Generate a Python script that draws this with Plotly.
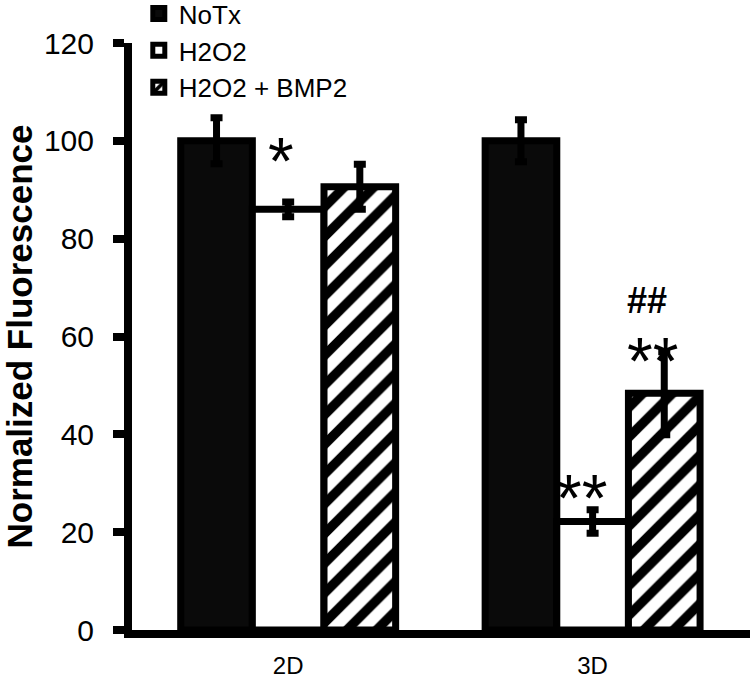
import plotly.graph_objects as go

categories = ["2D", "3D"]
series_names = ["NoTx", "H2O2", "H2O2 + BMP2"]
notx = [100, 100]
notx_err = [4.7, 4.3]
h2o2 = [86, 22.2]
h2o2_err = [1.5, 2.4]
bmp2 = [90.6, 48.4]
bmp2_err = [4.6, 8.5]

ann_x = [-0.025, 0.965, 1.198, 1.18]
ann_y = [97.5, 28.6, 56.7, 67.3]
ann_text = ["*", "**", "**", "##"]

FONT = "Arial, Liberation Sans, sans-serif"
LW = 7

err_style = dict(type="data", visible=True, color="black", thickness=7, width=6)

fig = go.Figure()
fig.add_trace(go.Bar(
    x=categories, y=notx, name=series_names[0],
    marker=dict(color="#0a0a0a", line=dict(color="black", width=LW)),
    error_y=dict(array=notx_err, **err_style),
))
fig.add_trace(go.Bar(
    x=categories, y=h2o2, name=series_names[1],
    marker=dict(color="white", line=dict(color="black", width=LW)),
    error_y=dict(array=h2o2_err, **err_style),
))
fig.add_trace(go.Bar(
    x=categories, y=bmp2, name=series_names[2],
    marker=dict(color="white", line=dict(color="black", width=LW),
                pattern=dict(shape="/", fgcolor="black", bgcolor="white",
                             size=21, solidity=0.45, fillmode="overlay",
                             fgopacity=1)),
    error_y=dict(array=bmp2_err, **err_style),
))

for x, y, t in zip(ann_x, ann_y, ann_text):
    if "*" in t:
        fnt = dict(family=FONT, size=66, color="black")
        ys = -8
        txt = t
    else:
        fnt = dict(family=FONT, size=36, color="black")
        ys = 0
        txt = "<b>" + t + "</b>"
    fig.add_annotation(x=x, y=y, xref="x", yref="y", text=txt, showarrow=False,
                       font=fnt, yshift=ys)

fig.update_layout(
    width=750, height=680,
    margin=dict(l=132, r=0, t=43, b=50, autoexpand=False),
    paper_bgcolor="white", plot_bgcolor="white",
    barmode="group", bargap=0.294, bargroupgap=0,
    font=dict(family=FONT, color="black"),
    showlegend=True,
    legend=dict(x=0.011, y=1.09, xanchor="left", yanchor="top",
                font=dict(size=26, family=FONT, color="black"),
                bgcolor="rgba(0,0,0,0)", tracegroupgap=0, itemwidth=30),
    xaxis=dict(range=[-0.513, 1.517], showline=True, linecolor="black", linewidth=8,
               ticks="", showgrid=False, zeroline=False, automargin=False,
               tickfont=dict(size=24, family=FONT, color="black"),
               ticklabelstandoff=7),
    yaxis=dict(range=[0, 120], tickvals=[0, 20, 40, 60, 80, 100, 120],
               showline=True, linecolor="black", linewidth=8,
               ticks="outside", ticklen=11, tickwidth=8, tickcolor="black",
               showgrid=False, zeroline=False, automargin=False,
               tickfont=dict(size=30, family=FONT, color="black"),
               ticklabelstandoff=13,
               title=dict(text="<b>Normalized Fluorescence</b>",
                          font=dict(size=35, family=FONT, color="black"),
                          standoff=16)),
)

fig.write_html("out.html",
               config={"displayModeBar": False},
               post_script="document.body.style.margin='0';document.body.style.overflow='hidden';")
